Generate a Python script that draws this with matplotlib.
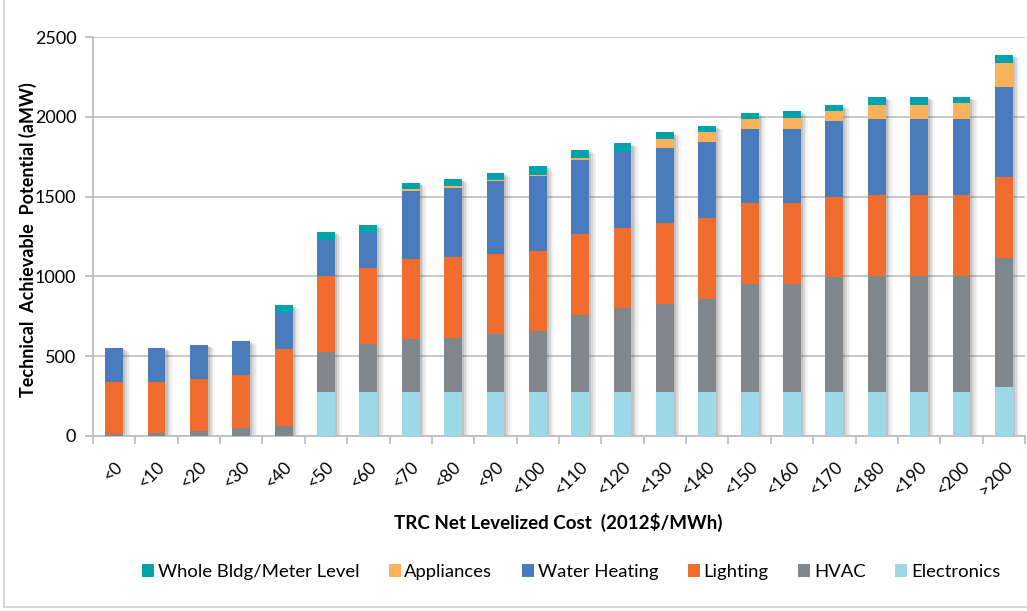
import matplotlib
matplotlib.use("Agg")
import matplotlib.pyplot as plt
import numpy as np

plt.rcParams['font.family'] = ['Lato', 'DejaVu Sans']

categories = ['<0', '<10', '<20', '<30', '<40', '<50', '<60', '<70', '<80', '<90', '<100',
              '<110', '<120', '<130', '<140', '<150', '<160', '<170', '<180', '<190', '<200', '>200']

electronics = [0, 0, 0, 0, 0, 274, 274, 274, 274, 274, 274,
               274, 274, 274, 274, 274, 274, 274, 274, 274, 274, 306]
hvac = [13, 20, 30, 53, 63, 252, 304, 332, 342, 363, 382,
        484, 525, 556, 586, 678, 678, 720, 728, 728, 728, 810]
lighting = [325, 318, 330, 328, 481, 478, 473, 505, 505, 505, 505,
            506, 507, 507, 506, 506, 506, 504, 506, 506, 506, 505]
water_heating = [214, 214, 213, 214, 224, 224, 223, 426, 435, 454, 466,
                 465, 472, 465, 475, 465, 465, 475, 476, 476, 476, 566]
appliances = [0, 0, 0, 0, 0, 0, 0, 9, 10, 10, 10,
              10, 4, 60, 61, 61, 71, 61, 92, 92, 102, 148]
whole_bldg = [0, 0, 0, 0, 51, 50, 50, 41, 42, 42, 53,
              51, 51, 40, 42, 42, 42, 42, 50, 50, 40, 55]

series = [
    ('Electronics', electronics, '#9DD8E7'),
    ('HVAC', hvac, '#7F878C'),
    ('Lighting', lighting, '#F06D2F'),
    ('Water Heating', water_heating, '#4A7CBD'),
    ('Appliances', appliances, '#F9B15A'),
    ('Whole Bldg/Meter Level', whole_bldg, '#00A2AC'),
]

fig = plt.figure(figsize=(10.27, 6.11), dpi=100)
ax = fig.add_axes([93 / 1027, 1 - 436 / 611, 932 / 1027, 399 / 611])

x = np.arange(len(categories))
width = 0.42
totals = np.sum([s[1] for s in series], axis=0)

# soft drop shadow behind each stack
for k, a in enumerate([0.16, 0.12, 0.08, 0.05]):
    off = 0.05 + 0.04 * k
    ax.bar(x + off, totals - 5 * k, width, bottom=-8, color='#555555', alpha=a,
           linewidth=0, zorder=2)

bottom = np.zeros(len(categories))
handles = {}
for name, vals, col in series:
    vals = np.array(vals, dtype=float)
    b = ax.bar(x, vals, width, bottom=bottom, color=col, linewidth=0, zorder=3, label=name)
    handles[name] = b
    bottom += vals

ax.set_xlim(-0.5, len(categories) - 0.5)
ax.set_ylim(0, 2500)
ax.set_yticks(np.arange(0, 2501, 500))
ax.yaxis.grid(True, color='#C4C4C4', linewidth=1.3, zorder=0)
ax.set_axisbelow(True)

for s in ['top', 'right']:
    ax.spines[s].set_visible(False)
for s in ['left', 'bottom']:
    ax.spines[s].set_color('#BFBFBF')
    ax.spines[s].set_linewidth(1.3)

ax.set_xticks(x)
ax.set_xticklabels(categories, rotation=45, ha='right', va='top', rotation_mode='anchor',
                   fontsize=12.5)
ax.tick_params(axis='x', length=0, pad=16)
ax.set_xticks(np.arange(-0.5, len(categories)), minor=True)
ax.tick_params(axis='x', which='minor', length=6, color='#BFBFBF', width=1.3)
ax.tick_params(axis='y', length=6, color='#BFBFBF', width=1.3, labelsize=13, pad=6)

fig.text(28 / 1027, 1 - 240 / 611, 'Technical  Achievable  Potential (aMW)', rotation=90,
         ha='center', va='center', fontsize=13, fontweight='bold')
fig.text(558 / 1027, 1 - 522 / 611, 'TRC Net Levelized Cost  (2012$/MWh)',
         ha='center', va='center', fontsize=13.5, fontweight='bold')

order = ['Whole Bldg/Meter Level', 'Appliances', 'Water Heating', 'Lighting', 'HVAC', 'Electronics']
fig.legend([handles[n] for n in order], order, loc='center', bbox_to_anchor=(571 / 1027, 1 - 572 / 611),
           ncol=6, frameon=False, fontsize=13.3, handlelength=0.65, handleheight=0.65,
           handletextpad=0.2, columnspacing=1.6)

# chart frame
fig.add_artist(plt.Line2D([4 / 1027, 4 / 1027], [4 / 611, 1], color='#D0D0D0', lw=1.2))
fig.add_artist(plt.Line2D([4 / 1027, 1], [4 / 611, 4 / 611], color='#D0D0D0', lw=1.2))

fig.savefig('out.png', dpi=100)
